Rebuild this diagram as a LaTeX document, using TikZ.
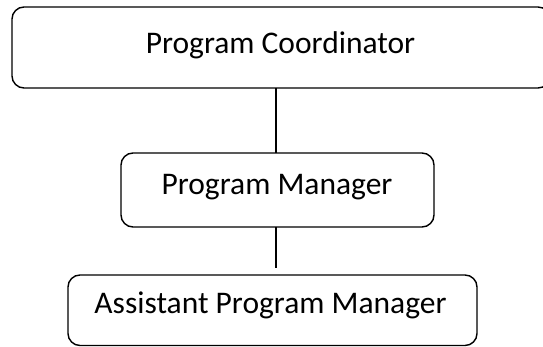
\documentclass[tikz,border=0pt]{standalone}
\usepackage{fontspec}
\setmainfont{Carlito}
\begin{document}
\begin{tikzpicture}[x=1pt,y=-1pt,
  boxline/.style={draw=black,line width=1.4pt,rounded corners=12pt},
  lbl/.style={anchor=base,inner sep=0pt,font=\fontsize{31.5}{38}\selectfont},
  conn/.style={draw=black,line width=1.4pt}]
\useasboundingbox (0,0) rectangle (543,347);
\clip (0,0) rectangle (543,347);
\draw[boxline] (12,7) rectangle (550,88);
\draw[boxline] (121,153) rectangle (434,227);
\draw[boxline] (68,275) rectangle (477,345.5);
\node[lbl] (pc) at (280.5,54) {Program Coordinator};
\node[lbl] (pm) at (277,195) {Program Manager};
\node[lbl] (apm) at (270.5,313) {Assistant Program Manager};
\coordinate (a1) at (276,88);
\coordinate (a2) at (276,153);
\coordinate (b1) at (276,227);
\coordinate (b2) at (276,268);
\draw[conn] (a1) -- (a2);
\draw[conn] (b1) -- (b2);
\end{tikzpicture}
\end{document}
